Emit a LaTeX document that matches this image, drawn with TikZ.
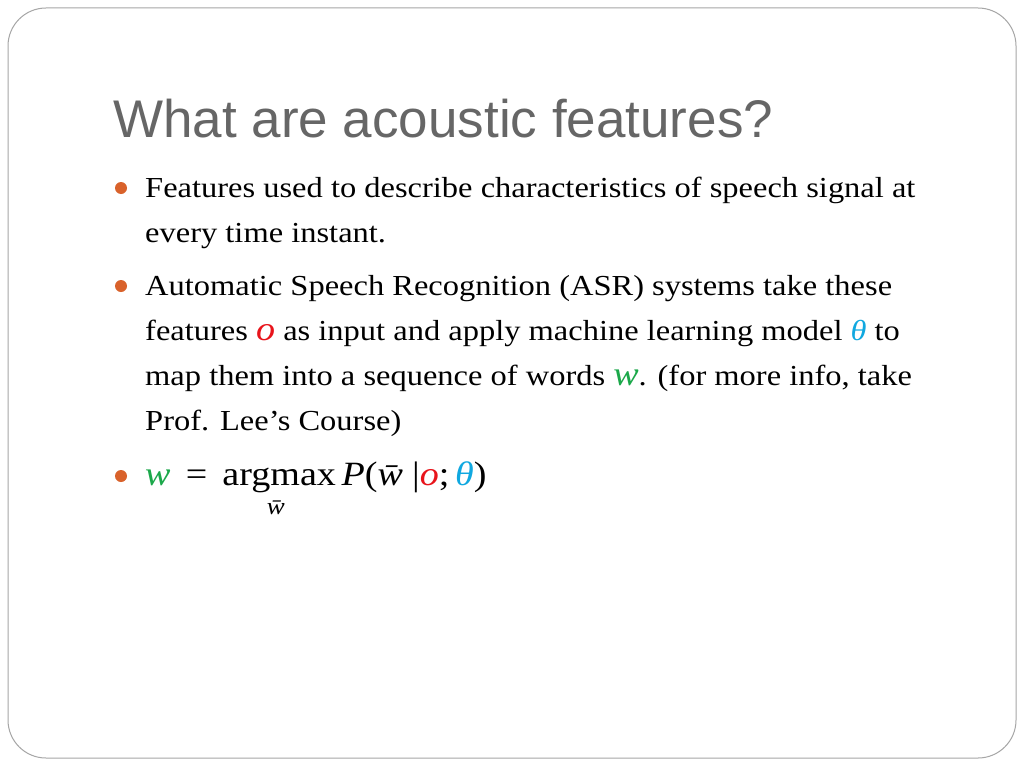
\documentclass[tikz,border=0pt]{standalone}
\usepackage{fontspec}
\setmainfont{Liberation Serif}[FakeStretch=1.12]
\newfontfamily\titlefont{Liberation Sans}
\newfontfamily\mathlike{DejaVu Serif}
\definecolor{ttl}{HTML}{666666}
\definecolor{bul}{HTML}{D9622B}
\definecolor{cO}{HTML}{E8141B}
\definecolor{cT}{HTML}{10A8E0}
\definecolor{cW}{HTML}{1BA84A}
\begin{document}
\begin{tikzpicture}[x=1pt,y=-1pt,
  body/.style={anchor=base west,inner sep=0pt,font=\fontsize{29}{34}\selectfont},
  bulletdot/.style={circle,fill=bul,minimum size=12pt,inner sep=0pt}]
\useasboundingbox (0,0) rectangle (1024,768);
\fill[white] (0,0) rectangle (1024,768);
\draw[gray!70,line width=1pt,rounded corners=38pt] (8,8) rectangle (1016,758);
\node[anchor=base west,inner sep=0pt,text=ttl,font=\titlefont\fontsize{53}{56}\selectfont] (title) at (113,137) {What are acoustic features?};
\node[bulletdot] (b1) at (121,188) {};
\node[body] (l1) at (145,197) {Features used to describe characteristics of speech signal at};
\node[body] (l2) at (145,242) {every time instant.};
\node[bulletdot] (b2) at (121,286) {};
\node[body] (l3) at (145,295) {Automatic Speech Recognition (ASR) systems take these};
\node[body] (l4) at (145,340) {features \textcolor{cO}{\fontsize{34}{34}\selectfont\textit{o}} as input and apply machine learning model \textcolor{cT}{\textit{θ}} to};
\node[body] (l5) at (145,385) {map them into a sequence of words \textcolor{cW}{\fontsize{34}{34}\selectfont\textit{w}}. (for more info, take};
\node[body] (l6) at (145,430) {Prof. Lee’s Course)};
\node[bulletdot] (b3) at (121,476) {};
\node[body,font=\fontsize{34}{36}\selectfont] (f) at (145,485) {\textcolor{cW}{\textit{w}}\, = \,argmax\,\textit{P}(\textit{w̄}|\textcolor{cO}{\textit{o}};\,\textcolor{cT}{\textit{θ}})};
\node[anchor=base,inner sep=0pt,font=\fontsize{24}{26}\selectfont] (sub) at (279,514) {\textit{w̄}};
\end{tikzpicture}
\end{document}
